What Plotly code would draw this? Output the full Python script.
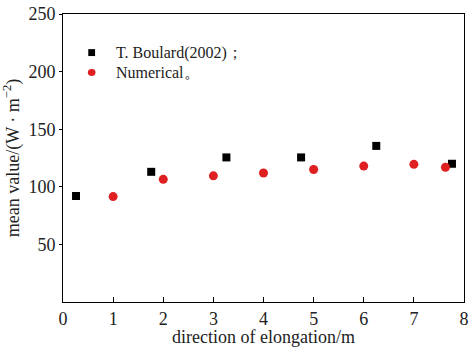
import plotly.graph_objects as go

# Measured mean values (T. Boulard, 2002)
boulard_x = [0.26, 1.76, 3.26, 4.75, 6.25, 7.76]
boulard_y = [92, 113, 125.5, 125.5, 135.5, 120]

# Numerical results
num_x = [1, 2, 3, 4, 5, 6, 7, 7.63]
num_y = [91.5, 106.5, 109.5, 112, 115, 118, 119.5, 117]

x_ticks = [0, 1, 2, 3, 4, 5, 6, 7, 8]
y_ticks = [50, 100, 150, 200, 250]

series_names = ["T. Boulard(2002)；", "Numerical。"]
black = "black"
red = "#e02020"

serif = "Liberation Serif, DejaVu Serif, serif"
text_color = "#222"

fig = go.Figure()
fig.add_trace(go.Scatter(
    x=boulard_x, y=boulard_y, mode="markers", name=series_names[0],
    marker=dict(symbol="square", size=8, color=black),
))
fig.add_trace(go.Scatter(
    x=num_x, y=num_y, mode="markers", name=series_names[1],
    marker=dict(symbol="circle", size=9, color=red),
))

axis_common = dict(
    showline=True, linecolor="black", linewidth=1, mirror=True,
    tickcolor="black", showgrid=False, zeroline=False,
    tickfont=dict(family=serif, size=18, color=text_color),
)

fig.update_xaxes(
    range=[0, 8], tickvals=x_ticks, ticks="inside", ticklen=5,
    title=dict(text="direction of elongation/m",
               font=dict(family=serif, size=18, color=text_color), standoff=2),
    **axis_common,
)
fig.update_yaxes(
    range=[0, 250], tickvals=y_ticks, ticks="outside", ticklen=3,
    title=dict(text="mean value/(W · m<sup>−2</sup>)",
               font=dict(family=serif, size=18, color=text_color), standoff=4),
    **axis_common,
)

# Key in the upper-left corner of the plot area
fig.add_shape(type="rect", xref="paper", yref="paper",
              x0=0.063, x1=0.080, y0=0.854, y1=0.878,
              fillcolor=black, line=dict(width=0))
fig.add_shape(type="circle", xref="paper", yref="paper",
              x0=0.062, x1=0.081, y0=0.785, y1=0.809,
              fillcolor=red, line=dict(width=0))
for name, ypos in zip(series_names, [0.866, 0.797]):
    fig.add_annotation(text=name, xref="paper", yref="paper",
                       x=0.126, y=ypos, xanchor="left", yanchor="middle",
                       showarrow=False,
                       font=dict(family=serif, size=16, color=text_color))

fig.update_layout(
    width=473, height=347,
    margin=dict(l=63, r=4, t=12, b=44),
    paper_bgcolor="white", plot_bgcolor="white",
    showlegend=False,
)

fig.write_html("out.html")
